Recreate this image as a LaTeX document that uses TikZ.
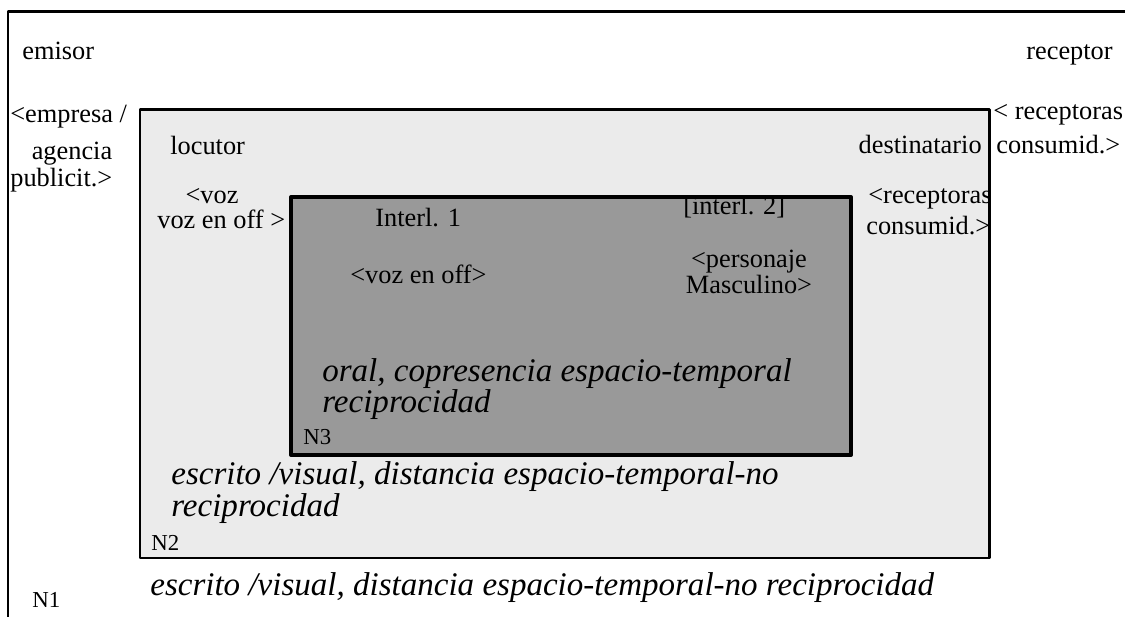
\documentclass[tikz,border=0pt]{standalone}
\usepackage{fontspec}
\setmainfont{Liberation Serif}
\begin{document}
\begin{tikzpicture}[x=0.02cm, y=-0.02cm, line join=round, font=\fontsize{15}{17}\selectfont]
		\tikzset{txt/.style={anchor=base west, inner sep=0pt},
			ctxt/.style={anchor=base, inner sep=0pt},
			rtxt/.style={anchor=base east, inner sep=0pt},
			big/.style={font=\fontsize{18.8}{20}\selectfont\itshape},
			lvl/.style={font=\fontsize{13}{15}\selectfont}}
		\def\ax{8} \def\ay{12} \def\bx{1140} \def\by{618}
		\useasboundingbox (0,0) rectangle (1125,617);
		\clip (0,0) rectangle (1125,617);
		% N1, N2, N3
		\fill[gray!16] (140,110) rectangle (989,558);
		\fill[gray!80] (291,197) rectangle (851,455);
		\node[txt] (emisor) at (22,60) {emisor};
		\node[rtxt] (receptor) at (1113,60) {receptor};
		\node[txt] (empresa) at (10,123) {<empresa /};
		\node[ctxt] (agencia) at (72,160) {agencia};
		\node[txt] (publicit) at (10,187) {publicit.>};
		\node[txt] (recep1) at (993,120) {< receptoras};
		\node[txt] (consum1) at (996,154) {consumid.>};
		\node[txt] (locutor) at (170,155) {locutor};
		\node[rtxt] (destin) at (982,154) {destinatario};
		\node[ctxt] (voz) at (212,204) {<voz};
		\node[txt] (vozoff) at (157,229) {voz en off >};
		\node[txt] (recep2) at (868,204) {<receptoras};
		\node[txt] (consum2) at (866,235) {consumid.>};
		\node[txt] (int1) at (375,227) {Interl. 1};
		\node[txt] (int2) at (683,215) {[interl. 2]};
		\node[txt] (vozoff2) at (350,284) {<voz en off>};
		\node[ctxt] (perso) at (749,268) {<personaje};
		\node[ctxt] (masc) at (749,294) {Masculino>};
		\node[txt, big] (oral) at (322,382) {oral, copresencia espacio-temporal};
		\node[txt, big] (recip3) at (322,413) {reciprocidad};
		\node[txt, lvl] (n3) at (303,445) {N3};
		\node[txt, big] (escr2) at (171,485) {escrito /visual, distancia espacio-temporal-no};
		\node[txt, big] (recip2) at (171,517) {reciprocidad};
		\node[txt, lvl] (n2) at (151,550) {N2};
		\node[txt, big] (escr1) at (150,595) {escrito /visual, distancia espacio-temporal-no reciprocidad};
		\node[txt, lvl] (n1) at (32,607) {N1};
		\draw[line width=1.7pt] (\ax,\ay) rectangle (\bx,\by);
		\draw[line width=1.7pt] (140,110) rectangle (989,558);
		\draw[line width=2.3pt] (291,197) rectangle (851,455);
\end{tikzpicture}
\end{document}
